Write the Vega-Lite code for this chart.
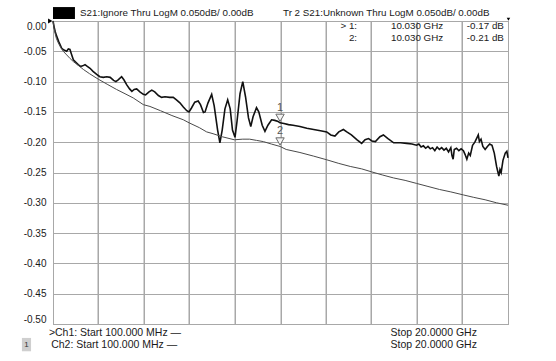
{
  "$schema": "https://vega.github.io/schema/vega-lite/v6.json",
  "width": 455,
  "height": 303,
  "autosize": {"type": "none"},
  "padding": {"left": 53, "top": 21, "right": 48, "bottom": 37},
  "background": "white",
  "config": {
    "view": {"stroke": "#8a8a8a", "strokeWidth": 1},
    "font": "Liberation Sans",
    "text": {"font": "Liberation Sans", "color": "#1a1a1a"},
    "axisX": {"tickCount": 20, "labels": false, "ticks": false, "domain": false, "title": null, "grid": true, "gridColor": "#a8a8a8", "gridOpacity": 1, "gridWidth": 1},
    "axisY": {"tickCount": 20, "labelOverlap": false, "labelFont": "Liberation Sans", "labelFontSize": 10, "labelColor": "#1a1a1a", "labelPadding": 7, "labelFlush": true, "labelFlushOffset": 0, "ticks": false, "domain": false, "title": null, "grid": true, "gridColor": "#a8a8a8", "gridOpacity": 1, "gridWidth": 1}
  },
  "datasets": {
    "divisions": [
      {"f": 2.0681}, {"f": 4.08}, {"f": 6.0481}, {"f": 8.06}, {"f": 10.0719},
      {"f": 12.04}, {"f": 14.0081}, {"f": 16.02}, {"f": 17.9881}
    ],
    "traces": [
      {"trace": "Ignore Thru", "f": 0.1, "db": 0.0},
      {"trace": "Ignore Thru", "f": 0.15, "db": -0.010},
      {"trace": "Ignore Thru", "f": 0.2, "db": -0.018},
      {"trace": "Ignore Thru", "f": 0.26, "db": -0.025},
      {"trace": "Ignore Thru", "f": 0.35, "db": -0.034},
      {"trace": "Ignore Thru", "f": 0.48, "db": -0.045},
      {"trace": "Ignore Thru", "f": 0.58, "db": -0.048},
      {"trace": "Ignore Thru", "f": 0.7, "db": -0.050},
      {"trace": "Ignore Thru", "f": 0.77, "db": -0.046},
      {"trace": "Ignore Thru", "f": 0.84, "db": -0.047},
      {"trace": "Ignore Thru", "f": 0.92, "db": -0.056},
      {"trace": "Ignore Thru", "f": 0.99, "db": -0.064},
      {"trace": "Ignore Thru", "f": 1.1, "db": -0.068},
      {"trace": "Ignore Thru", "f": 1.2, "db": -0.072},
      {"trace": "Ignore Thru", "f": 1.3, "db": -0.075},
      {"trace": "Ignore Thru", "f": 1.4, "db": -0.074},
      {"trace": "Ignore Thru", "f": 1.5, "db": -0.072},
      {"trace": "Ignore Thru", "f": 1.6, "db": -0.075},
      {"trace": "Ignore Thru", "f": 1.72, "db": -0.078},
      {"trace": "Ignore Thru", "f": 1.85, "db": -0.083},
      {"trace": "Ignore Thru", "f": 2.01, "db": -0.088},
      {"trace": "Ignore Thru", "f": 2.15, "db": -0.092},
      {"trace": "Ignore Thru", "f": 2.3, "db": -0.093},
      {"trace": "Ignore Thru", "f": 2.45, "db": -0.092},
      {"trace": "Ignore Thru", "f": 2.6, "db": -0.093},
      {"trace": "Ignore Thru", "f": 2.75, "db": -0.098},
      {"trace": "Ignore Thru", "f": 2.85, "db": -0.100},
      {"trace": "Ignore Thru", "f": 2.95, "db": -0.097},
      {"trace": "Ignore Thru", "f": 3.1, "db": -0.092},
      {"trace": "Ignore Thru", "f": 3.2, "db": -0.097},
      {"trace": "Ignore Thru", "f": 3.32, "db": -0.105},
      {"trace": "Ignore Thru", "f": 3.45, "db": -0.112},
      {"trace": "Ignore Thru", "f": 3.55, "db": -0.116},
      {"trace": "Ignore Thru", "f": 3.65, "db": -0.113},
      {"trace": "Ignore Thru", "f": 3.76, "db": -0.112},
      {"trace": "Ignore Thru", "f": 3.9, "db": -0.117},
      {"trace": "Ignore Thru", "f": 4.05, "db": -0.121},
      {"trace": "Ignore Thru", "f": 4.15, "db": -0.122},
      {"trace": "Ignore Thru", "f": 4.3, "db": -0.117},
      {"trace": "Ignore Thru", "f": 4.42, "db": -0.114},
      {"trace": "Ignore Thru", "f": 4.55, "db": -0.117},
      {"trace": "Ignore Thru", "f": 4.71, "db": -0.123},
      {"trace": "Ignore Thru", "f": 4.85, "db": -0.126},
      {"trace": "Ignore Thru", "f": 5.0, "db": -0.125},
      {"trace": "Ignore Thru", "f": 5.2, "db": -0.126},
      {"trace": "Ignore Thru", "f": 5.36, "db": -0.126},
      {"trace": "Ignore Thru", "f": 5.5, "db": -0.130},
      {"trace": "Ignore Thru", "f": 5.65, "db": -0.135},
      {"trace": "Ignore Thru", "f": 5.8, "db": -0.142},
      {"trace": "Ignore Thru", "f": 5.95, "db": -0.148},
      {"trace": "Ignore Thru", "f": 6.05, "db": -0.150},
      {"trace": "Ignore Thru", "f": 6.15, "db": -0.144},
      {"trace": "Ignore Thru", "f": 6.3, "db": -0.134},
      {"trace": "Ignore Thru", "f": 6.45, "db": -0.132},
      {"trace": "Ignore Thru", "f": 6.55, "db": -0.138},
      {"trace": "Ignore Thru", "f": 6.68, "db": -0.151},
      {"trace": "Ignore Thru", "f": 6.75, "db": -0.150},
      {"trace": "Ignore Thru", "f": 6.88, "db": -0.135},
      {"trace": "Ignore Thru", "f": 7.04, "db": -0.121},
      {"trace": "Ignore Thru", "f": 7.15, "db": -0.140},
      {"trace": "Ignore Thru", "f": 7.3, "db": -0.180},
      {"trace": "Ignore Thru", "f": 7.4, "db": -0.201},
      {"trace": "Ignore Thru", "f": 7.5, "db": -0.180},
      {"trace": "Ignore Thru", "f": 7.62, "db": -0.145},
      {"trace": "Ignore Thru", "f": 7.74, "db": -0.130},
      {"trace": "Ignore Thru", "f": 7.85, "db": -0.145},
      {"trace": "Ignore Thru", "f": 7.95, "db": -0.180},
      {"trace": "Ignore Thru", "f": 8.06, "db": -0.192},
      {"trace": "Ignore Thru", "f": 8.15, "db": -0.165},
      {"trace": "Ignore Thru", "f": 8.28, "db": -0.120},
      {"trace": "Ignore Thru", "f": 8.4, "db": -0.100},
      {"trace": "Ignore Thru", "f": 8.52, "db": -0.125},
      {"trace": "Ignore Thru", "f": 8.65, "db": -0.160},
      {"trace": "Ignore Thru", "f": 8.75, "db": -0.174},
      {"trace": "Ignore Thru", "f": 8.85, "db": -0.158},
      {"trace": "Ignore Thru", "f": 9.0, "db": -0.143},
      {"trace": "Ignore Thru", "f": 9.1, "db": -0.150},
      {"trace": "Ignore Thru", "f": 9.25, "db": -0.172},
      {"trace": "Ignore Thru", "f": 9.37, "db": -0.182},
      {"trace": "Ignore Thru", "f": 9.5, "db": -0.172},
      {"trace": "Ignore Thru", "f": 9.66, "db": -0.163},
      {"trace": "Ignore Thru", "f": 9.8, "db": -0.164},
      {"trace": "Ignore Thru", "f": 9.95, "db": -0.166},
      {"trace": "Ignore Thru", "f": 10.03, "db": -0.168},
      {"trace": "Ignore Thru", "f": 10.2, "db": -0.169},
      {"trace": "Ignore Thru", "f": 10.4, "db": -0.171},
      {"trace": "Ignore Thru", "f": 10.6, "db": -0.172},
      {"trace": "Ignore Thru", "f": 10.9, "db": -0.174},
      {"trace": "Ignore Thru", "f": 11.2, "db": -0.177},
      {"trace": "Ignore Thru", "f": 11.5, "db": -0.179},
      {"trace": "Ignore Thru", "f": 11.8, "db": -0.181},
      {"trace": "Ignore Thru", "f": 12.07, "db": -0.183},
      {"trace": "Ignore Thru", "f": 12.25, "db": -0.188},
      {"trace": "Ignore Thru", "f": 12.43, "db": -0.190},
      {"trace": "Ignore Thru", "f": 12.6, "db": -0.183},
      {"trace": "Ignore Thru", "f": 12.8, "db": -0.179},
      {"trace": "Ignore Thru", "f": 12.95, "db": -0.183},
      {"trace": "Ignore Thru", "f": 13.15, "db": -0.188},
      {"trace": "Ignore Thru", "f": 13.4, "db": -0.196},
      {"trace": "Ignore Thru", "f": 13.6, "db": -0.202},
      {"trace": "Ignore Thru", "f": 13.75, "db": -0.196},
      {"trace": "Ignore Thru", "f": 13.9, "db": -0.194},
      {"trace": "Ignore Thru", "f": 14.05, "db": -0.198},
      {"trace": "Ignore Thru", "f": 14.2, "db": -0.199},
      {"trace": "Ignore Thru", "f": 14.4, "db": -0.191},
      {"trace": "Ignore Thru", "f": 14.55, "db": -0.188},
      {"trace": "Ignore Thru", "f": 14.75, "db": -0.194},
      {"trace": "Ignore Thru", "f": 15.0, "db": -0.201},
      {"trace": "Ignore Thru", "f": 15.3, "db": -0.201},
      {"trace": "Ignore Thru", "f": 15.57, "db": -0.202},
      {"trace": "Ignore Thru", "f": 15.8, "db": -0.203},
      {"trace": "Ignore Thru", "f": 16.0, "db": -0.205},
      {"trace": "Ignore Thru", "f": 16.1, "db": -0.203},
      {"trace": "Ignore Thru", "f": 16.2, "db": -0.208},
      {"trace": "Ignore Thru", "f": 16.3, "db": -0.206},
      {"trace": "Ignore Thru", "f": 16.4, "db": -0.210},
      {"trace": "Ignore Thru", "f": 16.5, "db": -0.207},
      {"trace": "Ignore Thru", "f": 16.6, "db": -0.211},
      {"trace": "Ignore Thru", "f": 16.7, "db": -0.209},
      {"trace": "Ignore Thru", "f": 16.8, "db": -0.214},
      {"trace": "Ignore Thru", "f": 16.9, "db": -0.208},
      {"trace": "Ignore Thru", "f": 17.0, "db": -0.212},
      {"trace": "Ignore Thru", "f": 17.1, "db": -0.209},
      {"trace": "Ignore Thru", "f": 17.2, "db": -0.213},
      {"trace": "Ignore Thru", "f": 17.3, "db": -0.210},
      {"trace": "Ignore Thru", "f": 17.4, "db": -0.216},
      {"trace": "Ignore Thru", "f": 17.5, "db": -0.209},
      {"trace": "Ignore Thru", "f": 17.55, "db": -0.222},
      {"trace": "Ignore Thru", "f": 17.6, "db": -0.228},
      {"trace": "Ignore Thru", "f": 17.65, "db": -0.212},
      {"trace": "Ignore Thru", "f": 17.75, "db": -0.210},
      {"trace": "Ignore Thru", "f": 17.85, "db": -0.214},
      {"trace": "Ignore Thru", "f": 17.95, "db": -0.211},
      {"trace": "Ignore Thru", "f": 18.05, "db": -0.214},
      {"trace": "Ignore Thru", "f": 18.12, "db": -0.220},
      {"trace": "Ignore Thru", "f": 18.2, "db": -0.228},
      {"trace": "Ignore Thru", "f": 18.28, "db": -0.218},
      {"trace": "Ignore Thru", "f": 18.35, "db": -0.222},
      {"trace": "Ignore Thru", "f": 18.45, "db": -0.205},
      {"trace": "Ignore Thru", "f": 18.55, "db": -0.200},
      {"trace": "Ignore Thru", "f": 18.65, "db": -0.192},
      {"trace": "Ignore Thru", "f": 18.7, "db": -0.188},
      {"trace": "Ignore Thru", "f": 18.75, "db": -0.199},
      {"trace": "Ignore Thru", "f": 18.82, "db": -0.195},
      {"trace": "Ignore Thru", "f": 18.9, "db": -0.207},
      {"trace": "Ignore Thru", "f": 19.0, "db": -0.212},
      {"trace": "Ignore Thru", "f": 19.1, "db": -0.207},
      {"trace": "Ignore Thru", "f": 19.2, "db": -0.203},
      {"trace": "Ignore Thru", "f": 19.3, "db": -0.205},
      {"trace": "Ignore Thru", "f": 19.4, "db": -0.218},
      {"trace": "Ignore Thru", "f": 19.5, "db": -0.240},
      {"trace": "Ignore Thru", "f": 19.55, "db": -0.248},
      {"trace": "Ignore Thru", "f": 19.6, "db": -0.256},
      {"trace": "Ignore Thru", "f": 19.65, "db": -0.245},
      {"trace": "Ignore Thru", "f": 19.7, "db": -0.250},
      {"trace": "Ignore Thru", "f": 19.78, "db": -0.230},
      {"trace": "Ignore Thru", "f": 19.88, "db": -0.218},
      {"trace": "Ignore Thru", "f": 19.95, "db": -0.215},
      {"trace": "Ignore Thru", "f": 20.0, "db": -0.226},
      {"trace": "Unknown Thru", "f": 0.1, "db": 0.0},
      {"trace": "Unknown Thru", "f": 0.15, "db": -0.012},
      {"trace": "Unknown Thru", "f": 0.19, "db": -0.020},
      {"trace": "Unknown Thru", "f": 0.25, "db": -0.029},
      {"trace": "Unknown Thru", "f": 0.33, "db": -0.036},
      {"trace": "Unknown Thru", "f": 0.44, "db": -0.044},
      {"trace": "Unknown Thru", "f": 0.55, "db": -0.050},
      {"trace": "Unknown Thru", "f": 0.7, "db": -0.056},
      {"trace": "Unknown Thru", "f": 0.85, "db": -0.062},
      {"trace": "Unknown Thru", "f": 0.99, "db": -0.067},
      {"trace": "Unknown Thru", "f": 1.2, "db": -0.073},
      {"trace": "Unknown Thru", "f": 1.43, "db": -0.080},
      {"trace": "Unknown Thru", "f": 1.7, "db": -0.087},
      {"trace": "Unknown Thru", "f": 2.08, "db": -0.096},
      {"trace": "Unknown Thru", "f": 2.5, "db": -0.105},
      {"trace": "Unknown Thru", "f": 2.88, "db": -0.113},
      {"trace": "Unknown Thru", "f": 3.25, "db": -0.120},
      {"trace": "Unknown Thru", "f": 3.61, "db": -0.127},
      {"trace": "Unknown Thru", "f": 4.05, "db": -0.138},
      {"trace": "Unknown Thru", "f": 4.34, "db": -0.141},
      {"trace": "Unknown Thru", "f": 4.8, "db": -0.148},
      {"trace": "Unknown Thru", "f": 5.3, "db": -0.156},
      {"trace": "Unknown Thru", "f": 5.8, "db": -0.163},
      {"trace": "Unknown Thru", "f": 6.05, "db": -0.168},
      {"trace": "Unknown Thru", "f": 6.5, "db": -0.176},
      {"trace": "Unknown Thru", "f": 6.82, "db": -0.183},
      {"trace": "Unknown Thru", "f": 7.1, "db": -0.186},
      {"trace": "Unknown Thru", "f": 7.5, "db": -0.191},
      {"trace": "Unknown Thru", "f": 8.03, "db": -0.196},
      {"trace": "Unknown Thru", "f": 8.4, "db": -0.195},
      {"trace": "Unknown Thru", "f": 8.7, "db": -0.195},
      {"trace": "Unknown Thru", "f": 9.0, "db": -0.197},
      {"trace": "Unknown Thru", "f": 9.3, "db": -0.199},
      {"trace": "Unknown Thru", "f": 9.65, "db": -0.203},
      {"trace": "Unknown Thru", "f": 10.03, "db": -0.207},
      {"trace": "Unknown Thru", "f": 10.3, "db": -0.212},
      {"trace": "Unknown Thru", "f": 10.9, "db": -0.217},
      {"trace": "Unknown Thru", "f": 11.5, "db": -0.223},
      {"trace": "Unknown Thru", "f": 12.07, "db": -0.229},
      {"trace": "Unknown Thru", "f": 12.6, "db": -0.235},
      {"trace": "Unknown Thru", "f": 13.1, "db": -0.240},
      {"trace": "Unknown Thru", "f": 13.6, "db": -0.244},
      {"trace": "Unknown Thru", "f": 14.04, "db": -0.249},
      {"trace": "Unknown Thru", "f": 14.5, "db": -0.254},
      {"trace": "Unknown Thru", "f": 15.0, "db": -0.259},
      {"trace": "Unknown Thru", "f": 15.5, "db": -0.263},
      {"trace": "Unknown Thru", "f": 16.0, "db": -0.268},
      {"trace": "Unknown Thru", "f": 16.5, "db": -0.273},
      {"trace": "Unknown Thru", "f": 17.0, "db": -0.278},
      {"trace": "Unknown Thru", "f": 17.5, "db": -0.282},
      {"trace": "Unknown Thru", "f": 18.05, "db": -0.287},
      {"trace": "Unknown Thru", "f": 18.5, "db": -0.291},
      {"trace": "Unknown Thru", "f": 19.0, "db": -0.295},
      {"trace": "Unknown Thru", "f": 19.5, "db": -0.300},
      {"trace": "Unknown Thru", "f": 20.0, "db": -0.304}
    ],
    "markers": [
      {"label": "1", "f": 10.03, "db": -0.168},
      {"label": "2", "f": 10.03, "db": -0.207}
    ],
    "headLeft": [
      {"text": "S21:Ignore Thru LogM 0.050dB/  0.00dB", "f": 1.28, "db": 0.0132},
      {"text": "Tr 2  S21:Unknown Thru LogM 0.050dB/  0.00dB", "f": 10.16, "db": 0.0132},
      {"text": "10.030 GHz", "f": 14.88, "db": -0.0083},
      {"text": "10.030 GHz", "f": 14.88, "db": -0.028}
    ],
    "headRight": [
      {"text": "> 1:", "f": 13.4, "db": -0.0083},
      {"text": "2:", "f": 13.4, "db": -0.028},
      {"text": "-0.17 dB", "f": 19.82, "db": -0.0083},
      {"text": "-0.21 dB", "f": 19.82, "db": -0.028}
    ],
    "footLeft": [
      {"text": ">Ch1: Start  100.000 MHz —", "f": -0.08, "db": -0.515},
      {"text": "Ch2: Start  100.000 MHz —", "f": 0.02, "db": -0.534}
    ],
    "footRight": [
      {"text": "Stop  20.0000 GHz", "f": 18.64, "db": -0.515},
      {"text": "Stop  20.0000 GHz", "f": 18.64, "db": -0.534}
    ]
  },
  "layer": [
    {
      "data": {"name": "divisions"},
      "mark": {"type": "rule", "color": "#a8a8a8", "strokeWidth": 1},
      "encoding": {
        "x": {
          "field": "f", "type": "quantitative",
          "scale": {"domain": [0.1, 20], "nice": false, "zero": false},
          "axis": {
            "values": [0.1, 2.0681, 4.08, 6.0481, 8.06, 10.0719, 12.04, 14.0081, 16.02, 17.9881, 20.0],
            "tickCount": 20, "labelOverlap": false
          }
        }
      }
    },
    {
      "data": {"name": "traces"},
      "mark": {"type": "line", "interpolate": "linear"},
      "encoding": {
        "x": {"field": "f", "type": "quantitative"},
        "y": {
          "field": "db", "type": "quantitative",
          "scale": {"domain": [-0.5, 0], "nice": false, "zero": false},
          "axis": {
            "values": [0, -0.049505, -0.10066, -0.150165, -0.19967, -0.250825, -0.30033, -0.349835, -0.39934, -0.450495, -0.5],
            "tickCount": 20,
            "labelExpr": "replace(format(datum.value, '.2f'), '\u2212', '-')"
          }
        },
        "color": {
          "field": "trace", "type": "nominal",
          "scale": {"domain": ["Ignore Thru", "Unknown Thru"], "range": ["#111111", "#4a4a4a"]},
          "legend": null
        },
        "strokeWidth": {
          "field": "trace", "type": "nominal",
          "scale": {"domain": ["Ignore Thru", "Unknown Thru"], "range": [1.6, 1.0]},
          "legend": null
        }
      }
    },
    {
      "data": {"name": "markers"},
      "mark": {"type": "point", "shape": "triangle-down", "size": 70, "filled": true, "fill": "#f4f4f4", "stroke": "#6a6a6a", "strokeWidth": 1, "opacity": 1, "yOffset": -5},
      "encoding": {
        "x": {"field": "f", "type": "quantitative"},
        "y": {"field": "db", "type": "quantitative"}
      }
    },
    {
      "data": {"name": "markers"},
      "mark": {"type": "text", "fontSize": 11, "color": "#555555", "yOffset": -15, "baseline": "middle"},
      "encoding": {
        "x": {"field": "f", "type": "quantitative"},
        "y": {"field": "db", "type": "quantitative"},
        "text": {"field": "label"}
      }
    },
    {
      "data": {"values": [{"f": 0.1, "f2": 1.06, "db": 0.0033, "db2": 0.023}]},
      "mark": {"type": "rect", "color": "#000000"},
      "encoding": {
        "x": {"field": "f", "type": "quantitative"},
        "x2": {"field": "f2"},
        "y": {"field": "db", "type": "quantitative"},
        "y2": {"field": "db2"}
      }
    },
    {
      "data": {"values": [{"f": -1.26, "f2": -0.86, "db": -0.523, "db2": -0.545}]},
      "mark": {"type": "rect", "color": "#cfcfcf"},
      "encoding": {
        "x": {"field": "f", "type": "quantitative"},
        "x2": {"field": "f2"},
        "y": {"field": "db", "type": "quantitative"},
        "y2": {"field": "db2"}
      }
    },
    {
      "data": {"values": [{"text": "1", "f": -1.06, "db": -0.534}]},
      "mark": {"type": "text", "fontSize": 8, "align": "center", "baseline": "middle", "color": "#333333"},
      "encoding": {
        "x": {"field": "f", "type": "quantitative"},
        "y": {"field": "db", "type": "quantitative"},
        "text": {"field": "text"}
      }
    },
    {
      "data": {"values": [{"f": -0.02, "db": 0.0}]},
      "mark": {"type": "point", "shape": "triangle-right", "size": 25, "filled": true, "color": "#000000", "opacity": 1},
      "encoding": {
        "x": {"field": "f", "type": "quantitative"},
        "y": {"field": "db", "type": "quantitative"}
      }
    },
    {
      "data": {"values": [{"f": 20.02, "db": 0.003}]},
      "mark": {"type": "point", "shape": "triangle-down", "size": 12, "filled": true, "color": "#000000", "opacity": 1},
      "encoding": {
        "x": {"field": "f", "type": "quantitative"},
        "y": {"field": "db", "type": "quantitative"}
      }
    },
    {
      "data": {"name": "headLeft"},
      "mark": {"type": "text", "fontSize": 9.8, "align": "left", "baseline": "middle"},
      "encoding": {
        "x": {"field": "f", "type": "quantitative"},
        "y": {"field": "db", "type": "quantitative"},
        "text": {"field": "text"}
      }
    },
    {
      "data": {"name": "headRight"},
      "mark": {"type": "text", "fontSize": 9.8, "align": "right", "baseline": "middle"},
      "encoding": {
        "x": {"field": "f", "type": "quantitative"},
        "y": {"field": "db", "type": "quantitative"},
        "text": {"field": "text"}
      }
    },
    {
      "data": {"name": "footLeft"},
      "mark": {"type": "text", "fontSize": 10.5, "align": "left", "baseline": "middle"},
      "encoding": {
        "x": {"field": "f", "type": "quantitative"},
        "y": {"field": "db", "type": "quantitative"},
        "text": {"field": "text"}
      }
    },
    {
      "data": {"name": "footRight"},
      "mark": {"type": "text", "fontSize": 10.5, "align": "right", "baseline": "middle"},
      "encoding": {
        "x": {"field": "f", "type": "quantitative"},
        "y": {"field": "db", "type": "quantitative"},
        "text": {"field": "text"}
      }
    }
  ]
}
